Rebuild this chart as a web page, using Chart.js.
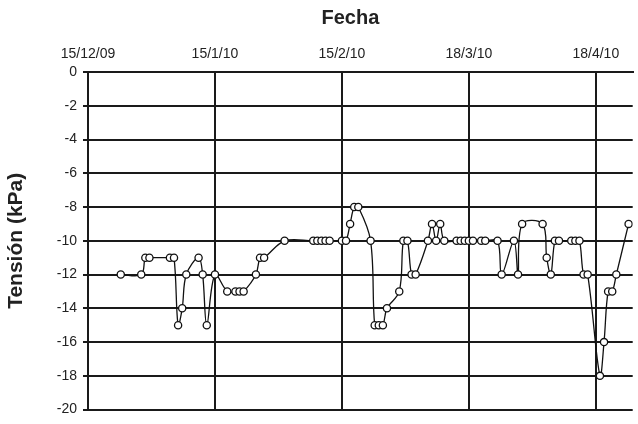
<!DOCTYPE html>
<html>
<head>
<meta charset="utf-8">
<script src="https://cdn.jsdelivr.net/npm/chart.js@4.4.0/dist/chart.umd.min.js"></script>
<style>
html,body{margin:0;padding:0;background:#fff;}
#wrap{width:638px;height:424px;position:relative;}
</style>
</head>
<body>
<div id="wrap"><canvas id="c" width="638" height="424"></canvas></div>
<script>
// Measurement dates (d/m/yy) and soil water tension (kPa)
const fechas = [
  "23/12/09","28/12/09","29/12/09","30/12/09","4/1/10","5/1/10","6/1/10","7/1/10","8/1/10","11/1/10",
  "12/1/10","13/1/10","15/1/10","18/1/10","20/1/10","21/1/10","22/1/10","25/1/10","26/1/10","27/1/10",
  "1/2/10","8/2/10","9/2/10","10/2/10","11/2/10","12/2/10","15/2/10","16/2/10","17/2/10","18/2/10",
  "19/2/10","22/2/10","23/2/10","24/2/10","25/2/10","26/2/10","1/3/10","2/3/10","3/3/10","4/3/10",
  "5/3/10","8/3/10","9/3/10","10/3/10","11/3/10","12/3/10","15/3/10","16/3/10","17/3/10","18/3/10",
  "19/3/10","21/3/10","22/3/10","25/3/10","26/3/10","29/3/10","30/3/10","31/3/10","5/4/10","6/4/10",
  "7/4/10","8/4/10","9/4/10","12/4/10","13/4/10","14/4/10","15/4/10","16/4/10","19/4/10","20/4/10",
  "21/4/10","22/4/10","23/4/10","26/4/10"
];
const tension = [
  -12,-12,-11,-11,-11,-11,-15,-14,-12,-11,
  -12,-15,-12,-13,-13,-13,-13,-12,-11,-11,
  -10,-10,-10,-10,-10,-10,-10,-10,-9,-8,
  -8,-10,-15,-15,-15,-14,-13,-10,-10,-12,
  -12,-10,-9,-10,-9,-10,-10,-10,-10,-10,
  -10,-10,-10,-10,-12,-10,-12,-9,-9,-11,
  -12,-10,-10,-10,-10,-10,-12,-12,-18,-16,
  -13,-13,-12,-9
];
const xTickLabels = ["15/12/09","15/1/10","15/2/10","18/3/10","18/4/10"];
const xStart = "15/12/09";
const xEnd = "27/4/10";
const yTicks = [0,-2,-4,-6,-8,-10,-12,-14,-16,-18,-20];
const xTitle = "Fecha";
const yTitle = "Tensión (kPa)";

function toDay(s){
  const p = s.split("/").map(Number);
  const t = Date.UTC(2000 + p[2], p[1]-1, p[0]);
  const b = xStart.split("/").map(Number);
  const t0 = Date.UTC(2000 + b[2], b[1]-1, b[0]);
  return Math.round((t - t0) / 86400000);
}
const pts = fechas.map((f,i)=>({x: toDay(f), y: tension[i]}));
const tickDays = xTickLabels.map(toDay);

const FONT = "'Liberation Sans', Arial, sans-serif";

// Draw the top axis title slightly left of the plot centre, as in the original
const xTitlePlugin = {
  id: 'xTitlePlugin',
  afterDraw(chart) {
    const ctx = chart.ctx;
    ctx.save();
    ctx.font = "bold 20px " + FONT;
    ctx.fillStyle = '#222';
    ctx.textAlign = 'center';
    ctx.textBaseline = 'middle';
    const a = chart.chartArea;
    ctx.fillText(xTitle, (a.left + a.right) / 2 - 10, 18);
    ctx.restore();
  }
};

new Chart(document.getElementById('c'), {
  type: 'line',
  data: {
    datasets: [{
      data: pts,
      borderColor: '#111',
      borderWidth: 1.3,
      backgroundColor: '#fff',
      pointBackgroundColor: '#fff',
      pointBorderColor: '#111',
      pointBorderWidth: 1.3,
      pointRadius: 3.6,
      tension: 0.35,
      fill: false
    }]
  },
  plugins: [xTitlePlugin],
  options: {
    responsive: false,
    animation: false,
    layout: {padding: {left: 0, top: 0, right: 2, bottom: 8}},
    plugins: {legend: {display: false}, tooltip: {enabled: false}},
    scales: {
      x: {
        type: 'linear',
        position: 'top',
        min: 0,
        max: toDay(xEnd),
        afterBuildTicks: (s) => { s.ticks = tickDays.map(v => ({value: v})); },
        afterFit: (s) => { s.height = 72; },
        ticks: {
          autoSkip: false,
          maxRotation: 0,
          padding: 9,
          color: '#222',
          font: {family: FONT, size: 14},
          callback: (v) => { const i = tickDays.indexOf(v); return i >= 0 ? xTickLabels[i] : ''; }
        },
        grid: {color: '#1a1a1a', lineWidth: 2, drawTicks: false},
        border: {color: '#1a1a1a', width: 2},
        title: {display: false}
      },
      y: {
        min: -20,
        max: 0,
        afterBuildTicks: (s) => { s.ticks = yTicks.map(v => ({value: v})); },
        afterFit: (s) => { s.width = 88; },
        ticks: {
          padding: 6,
          color: '#222',
          font: {family: FONT, size: 14}
        },
        grid: {color: '#1a1a1a', lineWidth: 2, tickLength: 5},
        border: {color: '#1a1a1a', width: 2},
        title: {display: true, text: yTitle, color: '#222',
                font: {family: FONT, size: 21, weight: 'bold'}, padding: {top: 4, bottom: 4}}
      }
    }
  }
});
</script>
</body>
</html>
